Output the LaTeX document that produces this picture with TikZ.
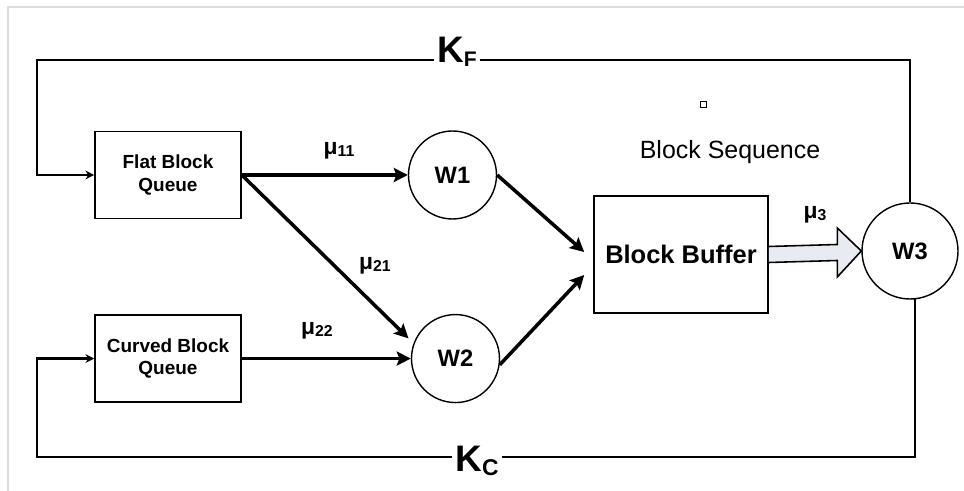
\documentclass[tikz,border=0pt]{standalone}
\usepackage{fontspec}
\setmainfont{Liberation Sans}
\usetikzlibrary{positioning,arrows.meta,calc}
\definecolor{arrowfill}{HTML}{E8ECF2}
\definecolor{framegray}{HTML}{DDDDDD}
\newcommand{\murate}[1]{μ\raisebox{-1pt}{\fontsize{9}{9}\selectfont #1}}

\begin{document}
\begin{tikzpicture}[>=Stealth,
  qbox/.style={draw,line width=0.9pt,align=center,minimum width=2.92cm,minimum height=1.74cm,font=\fontsize{10.8}{12.8}\selectfont\bfseries},
  srv/.style={draw,circle,line width=0.8pt,minimum size=1.76cm,inner sep=0pt,font=\fontsize{13.5}{16}\selectfont\bfseries},
  flow/.style={line width=2pt,-{Stealth[length=8pt,width=8pt,inset=1.5pt]}},
  fbline/.style={line width=1.3pt,-{Stealth[length=5pt,width=5pt]}},
  mulabel/.style={inner sep=1pt,font=\fontsize{13}{15}\selectfont\bfseries},
  klabel/.style={fill=white,inner sep=2pt,anchor=base,font=\fontsize{21}{24}\selectfont\bfseries}]
  \useasboundingbox (0,0) rectangle (19.28,9.82);
  \draw[framegray,line width=0.6pt] (0.16,0) -- (0.16,9.68) -- (19.28,9.68);

  \node[qbox] (flat) at (3.36,6.32) {Flat Block\\Queue};
  \node[qbox,below=1.9cm of flat] (curved) {Curved Block\\Queue};
  \node[srv,right=3.32cm of flat] (w1) {W1};
  \node[srv,right=3.38cm of curved] (w2) {W2};
  \node[draw,line width=0.9pt,minimum width=3.48cm,minimum height=2.34cm,font=\fontsize{14.5}{17}\selectfont\bfseries] (buf) at (13.62,4.73) {Block Buffer};
  \node[srv,minimum size=1.92cm] (w3) at (18.2,4.8) {W3};
  \node[font=\fontsize{14.2}{16}\selectfont] (seq) at (14.6,6.78) {Block Sequence};
  \node[draw,line width=0.5pt,minimum size=0.12cm,inner sep=0pt] (dot) at (14.06,7.74) {};

  \coordinate (in1) at ($(buf.west)+(-0.18,0.05)$);
  \coordinate (in2) at ($(buf.west)+(-0.18,-0.41)$);
  \draw[flow] (flat.east) -- (w1.west);
  \draw[flow,shorten >=4pt] (flat.east) -- (w2.160);
  \draw[flow] (curved.east) -- (w2.west);
  \draw[flow] (w1.east) -- (in1);
  \draw[flow] (w2.-8) -- (in2);
  \draw[line width=0.9pt,fill=arrowfill,line join=miter] ($(buf.east)+(0,0.16)$) -- ($(w3.west)+(-0.48,0.13)$)
    -- ($(w3.west)+(-0.48,0.46)$) -- (w3.west) -- ($(w3.west)+(-0.48,-0.52)$)
    -- ($(w3.west)+(-0.48,-0.19)$) -- ($(buf.east)+(0,-0.16)$);

  \node[mulabel] (m11) at (6.78,6.80) {\murate{11}};
  \node[mulabel] (m21) at (7.50,4.50) {\murate{21}};
  \node[mulabel] (m22) at (6.34,3.20) {\murate{22}};
  \node[mulabel] (m3) at (16.30,5.52) {\murate{3}};

  % feedback loops
  \coordinate (tl) at (0.74,8.62);
  \coordinate (bl) at (0.74,0.68);
  \draw[fbline] (w3.north) |- (tl) |- (flat.west);
  \draw[fbline] (w3.-84) |- (bl) |- (curved.west);
  \node[klabel] (kf) at (9.14,8.56) {K\raisebox{-2pt}{\fontsize{12}{12}\selectfont F}};
  \node[klabel] (kc) at (9.54,0.38) {K\raisebox{-2pt}{\fontsize{13}{13}\selectfont C}};
\end{tikzpicture}
\end{document}
